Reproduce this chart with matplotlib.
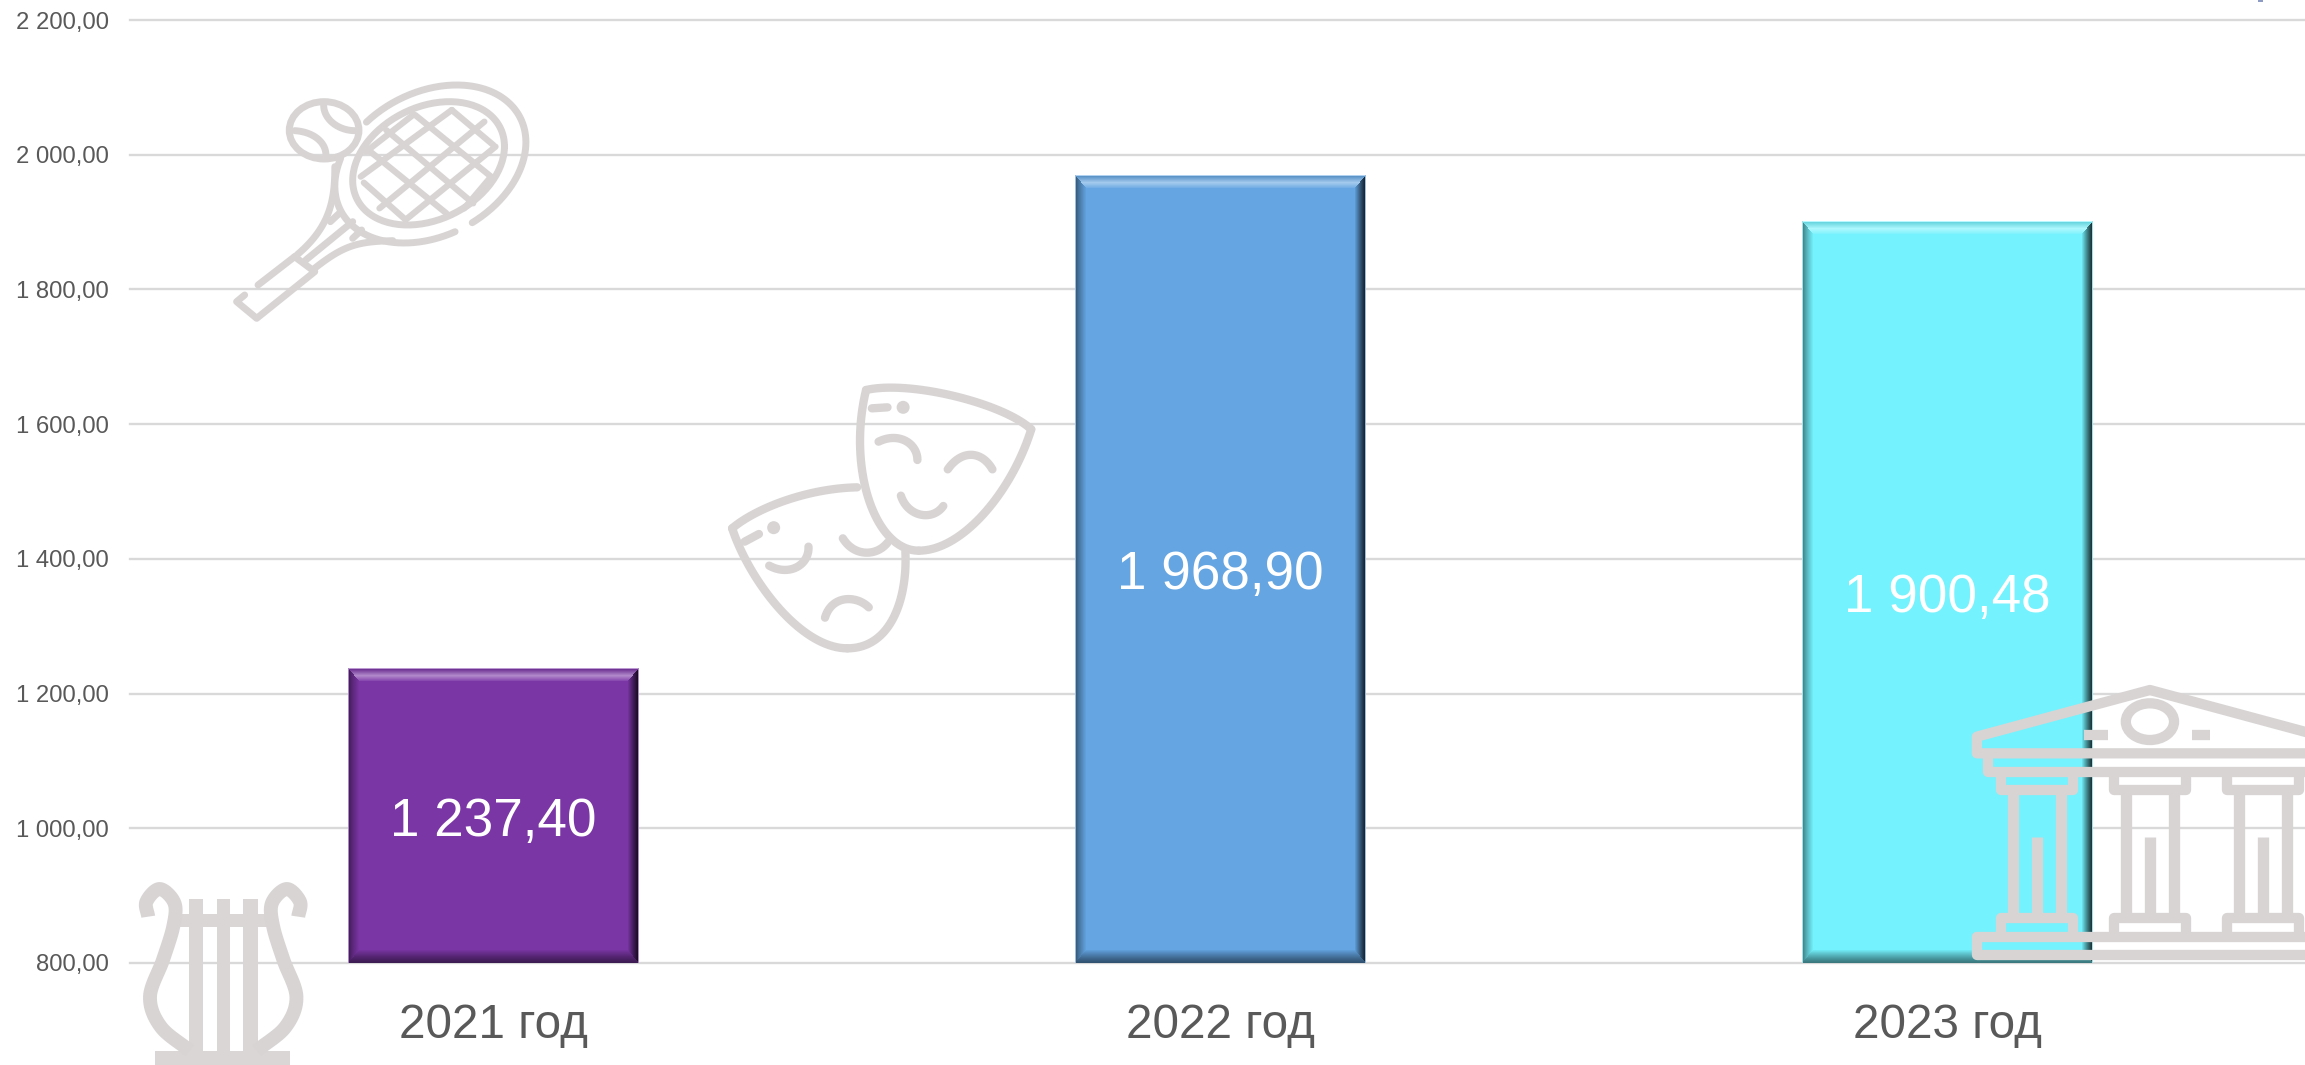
import numpy as np
import matplotlib
matplotlib.use("Agg")
import matplotlib.pyplot as plt
from matplotlib.ticker import FuncFormatter
from matplotlib.patches import Rectangle, Ellipse

plt.rcParams['font.family'] = ['Liberation Sans', 'DejaVu Sans']

categories = ["2021 год", "2022 год", "2023 год"]
values = [1237.40, 1968.90, 1900.48]
value_labels = ["1 237,40", "1 968,90", "1 900,48"]
bar_colors = ["#7B36A6", "#64A5E2", "#74F2FD"]
y_ticks = [800, 1000, 1200, 1400, 1600, 1800, 2000, 2200]

W, H = 2305, 1065
GRID = "#D9D9D9"
TXT = "#595959"
ICON = "#D8D4D4"

fig = plt.figure(figsize=(W / 100, H / 100), dpi=100, facecolor="white")
ax = fig.add_axes([130 / W, 1 - 963 / H, 2181 / W, (963 - 20) / H])
ax.set_xlim(-0.5, 2.5)
ax.set_ylim(800, 2200)
for s in ax.spines.values():
    s.set_visible(False)
ax.set_yticks(y_ticks)
ax.yaxis.set_major_formatter(FuncFormatter(
    lambda v, _: f"{int(v):,}".replace(",", " ") + ",00"))
ax.set_xticks(range(3))
ax.set_xticklabels(categories)
ax.tick_params(axis="y", length=0, pad=15, labelsize=17.2, labelcolor=TXT)
ax.tick_params(axis="x", length=0, pad=29, labelsize=34.3, labelcolor=TXT)
ax.grid(axis="y", color=GRID, linewidth=1.7)
for gl in ax.get_ygridlines():
    gl.set_clip_on(False)
ax.set_axisbelow(True)
bars = ax.bar(range(3), np.array(values) - 800, bottom=800, width=0.4,
              color=bar_colors, linewidth=0, zorder=2)


def bevel_image(color, w, h, bt=13, bs=11):
    base = np.array(matplotlib.colors.to_rgb(color))
    img = np.ones((h, w, 3)) * base
    for i in range(h):
        for j in range(w):
            n = [i / bt, (h - 1 - i) / bt, j / bs, (w - 1 - j) / bs]
            k = int(np.argmin(n))
            t = n[k]
            if t >= 1:
                continue
            if k == 0:   # top: a light band in the middle of the bevel
                a = max(0.0, 1 - abs(t - 0.55) / 0.5)
                c = base * (0.88 if t < 0.55 else 1.0) * (1 - a) + (base + (1 - base) * 0.42) * a
            elif k == 1:  # bottom
                c = base * (0.5 + 0.5 * t ** 1.2)
            elif k == 2:  # left
                c = base * (0.5 + 0.5 * t ** 0.8)
            else:         # right
                c = base * (0.18 + 0.82 * t ** 1.1)
            img[i, j] = c
    # thin light rim
    rim = base * 0.5 + 0.5
    img[0, :] = rim
    img[:, 0] = rim * 0.9
    img[:, -1] = rim * 0.9
    return img


for rect, col in zip(bars, bar_colors):
    x0, y0 = rect.get_x(), rect.get_y()
    x1, y1 = x0 + rect.get_width(), y0 + rect.get_height()
    (px0, py0), (px1, py1) = ax.transData.transform([(x0, y0), (x1, y1)])
    img = bevel_image(col, int(round(px1 - px0)), int(round(py1 - py0)))
    ax.imshow(img, extent=(x0, x1, y0, y1), origin="upper", aspect="auto",
              interpolation="nearest", zorder=3)
ax.set_xlim(-0.5, 2.5)
ax.set_ylim(800, 2200)

for i, (v, lab) in enumerate(zip(values, value_labels)):
    ax.text(i, (v + 800) / 2 - 9, lab, ha="center", va="center",
            color="white", fontsize=38.2, zorder=4)

# ---- decorative pictograms, in figure pixels ----
ov = fig.add_axes([0, 0, 1, 1], facecolor="none")
ov.set_xlim(0, W)
ov.set_ylim(H, 0)
ov.axis("off")


def smooth(pts, n=14):
    p = np.array(pts, float)
    if len(p) < 3:
        return p
    q = np.vstack([2 * p[0] - p[1], p, 2 * p[-1] - p[-2]])
    out = []
    for i in range(1, len(q) - 2):
        for t in np.linspace(0, 1, n, endpoint=False):
            a, b, c, d = q[i - 1], q[i], q[i + 1], q[i + 2]
            out.append(0.5 * (2 * b + (c - a) * t + (2 * a - 5 * b + 4 * c - d) * t ** 2
                              + (3 * b - a - 3 * c + d) * t ** 3))
    out.append(p[-1])
    return np.array(out)


def bez(pts, n=40):
    a, b, c, d = [np.array(q, float) for q in pts]
    t = np.linspace(0, 1, n)[:, None]
    return (1 - t) ** 3 * a + 3 * (1 - t) ** 2 * t * b + 3 * (1 - t) * t ** 2 * c + t ** 3 * d


def draw(conv, xy, lw, cap="round", join="round"):
    xy = conv(np.asarray(xy, float))
    ov.plot(xy[:, 0], xy[:, 1], color=ICON, lw=lw, solid_capstyle=cap,
            solid_joinstyle=join)


def stroke(conv, pts, lw, curved=True, cap="round", join="round"):
    draw(conv, smooth(pts) if curved else np.array(pts, float), lw, cap, join)


def ell(conv, cx, cy, rx, ry, lw):
    x, y = conv(np.array([[cx, cy]], float))[0]
    sx, sy = conv(np.array([[cx + rx, cy + ry]], float))[0] - (x, y)
    ov.add_patch(Ellipse((x, y), 2 * sx, 2 * sy, fill=False, ec=ICON, lw=lw))


def dot(conv, cx, cy, r):
    x, y = conv(np.array([[cx, cy]], float))[0]
    ov.add_patch(Ellipse((x, y), 2 * r, 2 * r, fc=ICON, ec="none"))


def skew_arc(cx, cy, hx, hy, t0, t1, delta=74, n=160):
    t = np.radians(np.linspace(t0, t1, n))
    return np.c_[cx + hx * np.cos(t), cy - hy * np.cos(t - np.radians(delta))]


# tennis racket
tn = lambda p: p * [1 / 2.24, 1 / 3]
LW = 5.0
ell(tn, 726, 391, 78, 86, LW)
draw(tn, bez([(725, 315), (725, 360), (760, 392), (795, 392)]), LW)
draw(tn, bez([(660, 392), (700, 395), (730, 425), (730, 465)]), LW)
draw(tn, skew_arc(964, 492, 214, 237, 132, -64), LW)
draw(tn, skew_arc(964, 492, 214, 237, -75, -200), LW)
draw(tn, skew_arc(960, 490, 170, 185, 0, 360), LW)
for a, b in [((1012, 330), (808, 530)), ((1085, 365), (850, 625)), ((1110, 440), (908, 660)),
             ((1100, 530), (1040, 625)), ((925, 345), (820, 455)),
             ((1012, 330), (1105, 435)), ((930, 345), (1100, 530)), ((865, 390), (1060, 610)),
             ((825, 450), (1000, 640)), ((815, 548), (905, 655))]:
    stroke(tn, [a, b], LW * 0.9, curved=False)
draw(tn, bez([(750, 500), (750, 600), (740, 680), (665, 765)]), LW)
draw(tn, bez([(880, 722), (800, 725), (770, 735), (700, 810)]), LW)
stroke(tn, [(790, 665), (685, 780)], LW, curved=False)
stroke(tn, [(760, 640), (740, 665)], LW, curved=False)
stroke(tn, [(810, 690), (790, 715)], LW, curved=False)
stroke(tn, [(660, 770), (578, 855)], LW, curved=False)
stroke(tn, [(548, 885), (530, 905), (575, 955), (705, 815), (660, 770)], LW, curved=False)

# masks
ms = lambda p: p * [1 / 2.24, 1 / 3] + [700, 150]
LW = 6.0
draw(ms, bez([(372, 720), (470, 690), (680, 760), (742, 838)]), LW)
draw(ms, bez([(742, 838), (700, 1020), (590, 1202), (490, 1202)]), LW)
draw(ms, bez([(490, 1202), (390, 1202), (330, 950), (372, 720)]), LW)
draw(ms, bez([(72, 1135), (125, 1075), (240, 1015), (352, 1012)]), LW)
draw(ms, bez([(72, 1135), (110, 1290), (225, 1495), (330, 1495)]), LW)
draw(ms, bez([(330, 1495), (430, 1495), (465, 1340), (460, 1205)]), LW)
stroke(ms, [(385, 775), (420, 772)], LW, curved=False)
draw(ms, bez([(400, 875), (445, 845), (487, 880), (487, 930)]), LW)
draw(ms, bez([(555, 958), (585, 900), (630, 900), (655, 958)]), LW)
draw(ms, bez([(450, 1037), (465, 1100), (520, 1115), (545, 1068)]), LW)
stroke(ms, [(100, 1175), (132, 1152)], LW, curved=False)
draw(ms, bez([(155, 1247), (200, 1280), (245, 1245), (243, 1190)]), LW)
draw(ms, bez([(320, 1165), (345, 1220), (395, 1220), (420, 1178)]), LW)
draw(ms, bez([(280, 1403), (295, 1335), (350, 1335), (378, 1372)]), LW)
dot(ms, 455, 772, 6.5)
dot(ms, 165, 1133, 6.5)

# lyre
ly = lambda p: p * [1 / 2.24, 1 / 3] + [0, 640]
for x0, x1, y0, y1 in [(423, 455, 778, 1240), (485, 516, 778, 1240), (545, 577, 778, 1240),
                       (395, 605, 822, 862), (348, 650, 1233, 1278)]:
    a = ly(np.array([[x0, y0]], float))[0]
    b = ly(np.array([[x1, y1]], float))[0]
    ov.add_patch(Rectangle(a, b[0] - a[0], b[1] - a[1], fc="#D9D6D5", ec="none"))
LW = 10.0
arm = [(332, 830), (328, 785), (358, 747), (391, 790), (388, 860), (365, 960), (336, 1070), (360, 1160), (425, 1232)]
stroke(ly, arm, LW, cap="butt")
stroke(ly, [(1000 - x, y) for x, y in arm], LW, cap="butt")

# temple
tp = lambda p: p * [1 / 2.987, 1 / 3] + [1780, 640]
LW = 7.4
R = 1700
stroke(tp, [(R, 290), (1622, 290), (1105, 150), (588, 290), (588, 340), (R, 340)], LW, curved=False)
stroke(tp, [(622, 345), (622, 395), (R, 395)], LW, curved=False)
stroke(tp, [(588, 890), (R, 890)], LW, curved=False)
stroke(tp, [(588, 890), (588, 945), (R, 945)], LW, curved=False)
for cx in [767, 1105, 1443]:
    stroke(tp, [(cx - 107, 400), (cx - 107, 450), (cx + 107, 450), (cx + 107, 400)], LW, curved=False)
    stroke(tp, [(cx - 107, 885), (cx - 107, 835), (cx + 107, 835), (cx + 107, 885)], LW, curved=False)
    for dx in (-72, 72):
        stroke(tp, [(cx + dx, 450), (cx + dx, 835)], LW * 1.1, curved=False, cap="butt")
    stroke(tp, [(cx, 590), (cx, 835)], LW * 1.1, curved=False, cap="butt")
ell(tp, 1105, 245, 72, 55, LW)
stroke(tp, [(908, 286), (980, 286)], LW, curved=False, cap="butt")
stroke(tp, [(1230, 286), (1283, 286)], LW, curved=False, cap="butt")

# tiny fragment at the upper right edge
ov.add_patch(Rectangle((2258, 0), 5, 1.5, fc="#8C9BC4", ec="none"))

fig.savefig("out.png", dpi=100, facecolor="white")
